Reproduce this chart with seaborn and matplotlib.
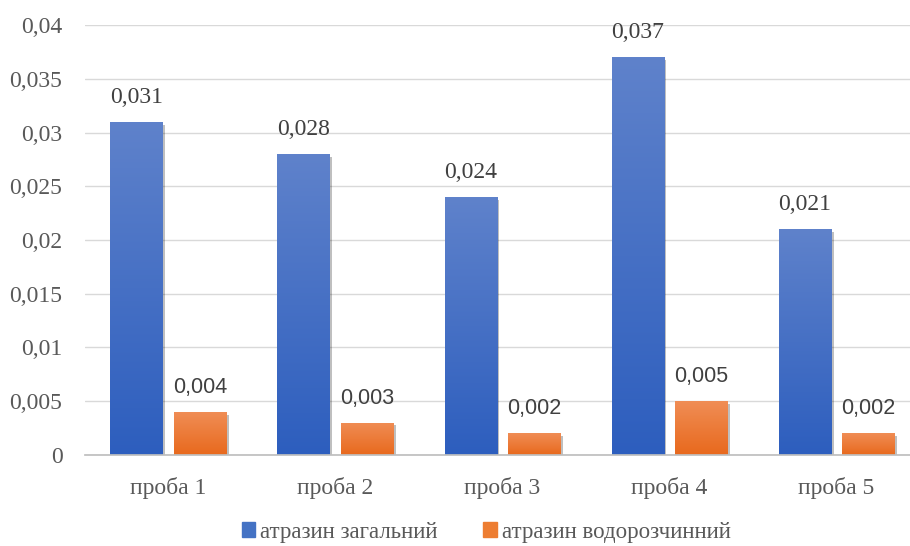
import numpy as np
import pandas as pd
import seaborn as sns
import matplotlib.pyplot as plt
import matplotlib.patheffects as pe
from matplotlib.ticker import FuncFormatter, MultipleLocator
from matplotlib.colors import LinearSegmentedColormap

# values
categories = ['проба 1', 'проба 2', 'проба 3', 'проба 4', 'проба 5']
total = [0.031, 0.028, 0.024, 0.037, 0.021]
soluble = [0.004, 0.003, 0.002, 0.005, 0.002]
series = ['атразин загальний', 'атразин водорозчинний']

df = pd.DataFrame({
    'проба': categories * 2,
    'value': total + soluble,
    'series': [series[0]] * len(total) + [series[1]] * len(soluble),
})

sns.set_theme(style='white')
plt.rcParams['font.family'] = ['Liberation Serif', 'DejaVu Serif']


def comma(v, _=None):
    return ('%g' % round(v, 4)).replace('.', ',')


fig = plt.figure(figsize=(9.1, 5.46), dpi=100)
ax = fig.add_axes([0.093, 0.167, 0.918, 0.787])
sns.barplot(data=df, x='проба', y='value', hue='series',
            palette=['#4472C4', '#ED7D31'], width=0.76, gap=0.18,
            ax=ax, legend=False)

# gradient fill + soft shadow on each bar
cmaps = [LinearSegmentedColormap.from_list('b', ['#2D5EBE', '#5F82CB']),
         LinearSegmentedColormap.from_list('o', ['#E8691D', '#F08D55'])]
grad = np.linspace(0, 1, 256).reshape(-1, 1)
for cont, cmap in zip(ax.containers, cmaps):
    for bar in cont:
        x0, y0 = bar.get_x(), bar.get_y()
        w, h = bar.get_width(), bar.get_height()
        bar.set_edgecolor('none')
        bar.set_path_effects([pe.SimplePatchShadow(offset=(2, -2), shadow_rgbFace='black', alpha=0.25),
                              pe.Normal()])
        im = ax.imshow(grad, cmap=cmap, extent=[x0, x0 + w, y0, y0 + h],
                       origin='lower', aspect='auto', zorder=bar.get_zorder() + 0.1)
        im.set_clip_path(bar)

ax.set_xlim(-0.5, len(categories) - 0.5)
ax.set_ylim(0, 0.04)
ax.yaxis.set_major_locator(MultipleLocator(0.005))
ax.yaxis.set_major_formatter(FuncFormatter(comma))
ax.grid(axis='y', color='#d9d9d9', lw=1)
ax.set_axisbelow(True)
for s in ['top', 'right', 'left']:
    ax.spines[s].set_visible(False)
ax.spines['bottom'].set_color('#bfbfbf')
ax.tick_params(axis='y', length=0, pad=16, labelsize=17, labelcolor='#595959')
ax.tick_params(axis='x', length=0, pad=16, labelsize=17, labelcolor='#595959')
ax.set_xlabel('')
ax.set_ylabel('')

ax.bar_label(ax.containers[0], labels=[comma(v) for v in total], padding=10,
             fontsize=17, color='#404040')
ax.bar_label(ax.containers[1], labels=[comma(v) for v in soluble], padding=10,
             fontsize=15.5, color='#404040', family=['Liberation Sans', 'DejaVu Sans'])

handles = [plt.Rectangle((0, 0), 1, 1, color=c) for c in ['#4472C4', '#ED7D31']]
fig.legend(handles, series, loc='lower center', bbox_to_anchor=(0.534, -0.032), ncol=2,
           frameon=False, fontsize=16.5, handlelength=0.6, handleheight=0.6,
           handletextpad=0.2, columnspacing=2.0, labelcolor='#595959')

fig.savefig('out.png', dpi=100)
